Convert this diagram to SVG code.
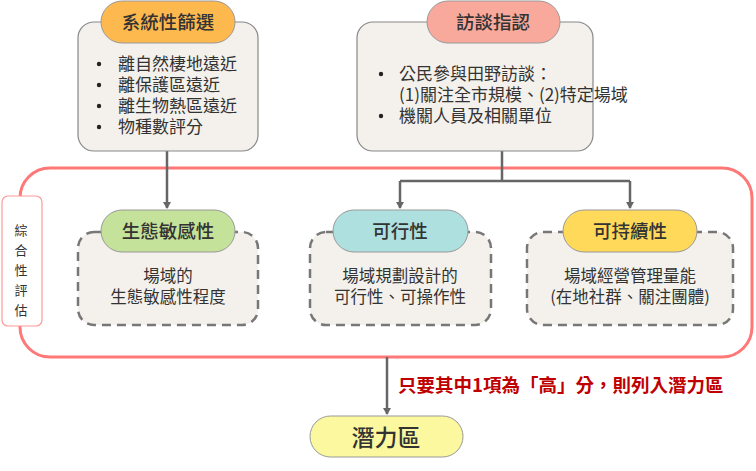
<svg xmlns="http://www.w3.org/2000/svg" width="756" height="471" viewBox="0 0 756 471">
<style>
text{font-family:"Noto Sans CJK TC","Noto Sans CJK SC",sans-serif;fill:#333}
.body{fill:#F4F1EC;stroke:#888;stroke-width:1.2}
.dash{fill:#F4F1EC;stroke:#777;stroke-width:2.5;stroke-dasharray:9 6}
.pill{stroke:#999;stroke-width:1}
.h{font-size:18.5px;font-weight:500;text-anchor:middle}
.t{font-size:17px}
.c{font-size:16.5px;text-anchor:middle}
.v{font-size:13px;text-anchor:middle}
.ln{stroke:#666;stroke-width:2.5;fill:none}
.dot{fill:#222}
</style>
<defs><marker id="a" markerWidth="8" markerHeight="8" refX="6" refY="4" orient="auto" markerUnits="userSpaceOnUse"><path d="M0,0 L7,4 L0,8z" fill="#666"/></marker></defs>
<rect x="20" y="168" width="732" height="189" rx="30" fill="none" stroke="#F77" stroke-width="3"/>
<g id="label"><rect x="2" y="196" width="40" height="130" rx="6" fill="#fff" stroke="#F99" stroke-width="1.2"/>
<text class="v" x="21" y="235">綜</text><text class="v" x="21" y="255">合</text><text class="v" x="21" y="275">性</text><text class="v" x="21" y="295">評</text><text class="v" x="21" y="315">估</text></g>
<g id="connectors">
<path class="ln" d="M167,151 V208" marker-end="url(#a)"/>
<path class="ln" d="M502,151 V181 M400,181 H630"/>
<path class="ln" d="M400,181 V208" marker-end="url(#a)"/>
<path class="ln" d="M630,181 V208" marker-end="url(#a)"/>
<path class="ln" d="M387,357 V414" marker-end="url(#a)"/>
</g>
<g id="n1"><rect class="body" x="78" y="22" width="180" height="129" rx="16"/>
<rect class="pill" x="101" y="1" width="134" height="42" rx="21" fill="#FDB94E"/><text class="h" x="168" y="29">系統性篩選</text>
<circle class="dot" cx="99" cy="64" r="2.2"/><text class="t" x="118" y="70">離自然棲地遠近</text>
<circle class="dot" cx="99" cy="85" r="2.2"/><text class="t" x="118" y="91">離保護區遠近</text>
<circle class="dot" cx="99" cy="106" r="2.2"/><text class="t" x="118" y="112">離生物熱區遠近</text>
<circle class="dot" cx="99" cy="127" r="2.2"/><text class="t" x="118" y="133">物種數評分</text></g>
<g id="n2"><rect class="body" x="357" y="22" width="236" height="129" rx="16"/>
<rect class="pill" x="427" y="1" width="133" height="42" rx="21" fill="#F9A99B"/><text class="h" x="493" y="29">訪談指認</text>
<circle class="dot" cx="381" cy="74" r="2.2"/><text class="t" x="399" y="80">公民參與田野訪談：</text>
<text class="t" x="399" y="101">(1)關注全市規模、(2)特定場域</text>
<circle class="dot" cx="381" cy="116" r="2.2"/><text class="t" x="399" y="122">機關人員及相關單位</text></g>
<g id="n3"><rect class="dash" x="78" y="232" width="180" height="93" rx="16"/>
<rect class="pill" x="101" y="210" width="134" height="42" rx="21" fill="#C5E29A"/><text class="h" x="168" y="238">生態敏感性</text>
<text class="c" x="168" y="282">場域的</text><text class="c" x="168" y="303">生態敏感性程度</text></g>
<g id="n4"><rect class="dash" x="310" y="232" width="181" height="93" rx="16"/>
<rect class="pill" x="333" y="210" width="135" height="42" rx="21" fill="#AEE0E0"/><text class="h" x="400" y="238">可行性</text>
<text class="c" x="400" y="282">場域規劃設計的</text><text class="c" x="400" y="303">可行性、可操作性</text></g>
<g id="n5"><rect class="dash" x="527" y="232" width="206" height="93" rx="16"/>
<rect class="pill" x="563" y="210" width="134" height="42" rx="21" fill="#FFD95A"/><text class="h" x="630" y="238">可持續性</text>
<text class="c" x="630" y="282">場域經營管理量能</text><text class="c" x="630" y="303">(在地社群、關注團體)</text></g>
<text x="398" y="392" font-size="18.5" font-weight="bold" style="fill:#C00000">只要其中1項為「高」分，則列入潛力區</text>
<g id="n6"><rect class="pill" x="310" y="416" width="153" height="41" rx="20.5" fill="#FBF8A0"/><text x="386" y="446" font-size="23" font-weight="500" text-anchor="middle">潛力區</text></g>
</svg>
